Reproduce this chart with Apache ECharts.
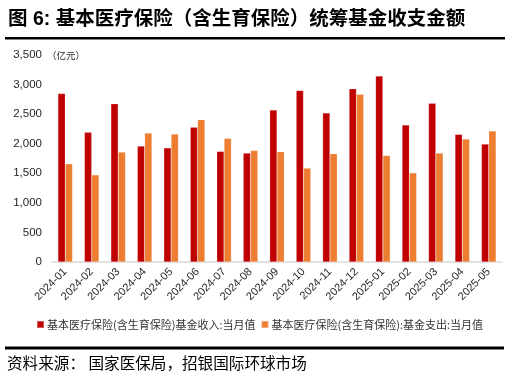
<!DOCTYPE html>
<html>
<head>
<meta charset="utf-8">
<script src="https://cdn.jsdelivr.net/npm/echarts@6/dist/echarts.min.js"></script>
<style>html,body{margin:0;padding:0;background:#fff;}#c{width:523px;height:380px;}</style>
</head>
<body>
<div id="c"></div>
<script>
const categories = ['2024-01','2024-02','2024-03','2024-04','2024-05','2024-06','2024-07','2024-08','2024-09','2024-10','2024-11','2024-12','2025-01','2025-02','2025-03','2025-04','2025-05'];
const incomeValues = [2850, 2195, 2675, 1960, 1930, 2278, 1870, 1842, 2572, 2900, 2521, 2929, 3143, 2317, 2684, 2158, 1994];
const expenseValues = [1660, 1473, 1859, 2181, 2164, 2407, 2090, 1886, 1864, 1587, 1830, 2837, 1801, 1507, 1842, 2079, 2215];
const yTicks = { min: 0, max: 3500, interval: 500 };
const incomeName = '基本医疗保险(含生育保险)基金收入:当月值';
const expenseName = '基本医疗保险(含生育保险):基金支出:当月值';
const titleText = '图 6: 基本医疗保险（含生育保险）统筹基金收支金额';
const sourceText = '资料来源： 国家医保局，招银国际环球市场';
const unitText = '（亿元）';

const FONT = 'Liberation Sans, Arial, Noto Sans CJK SC, sans-serif';
const CJK = 'Noto Sans CJK SC, sans-serif';
const chart = echarts.init(document.getElementById('c'), null, {renderer: 'canvas'});
chart.setOption({
  animation: false,
  backgroundColor: '#fff',
  textStyle: { fontFamily: FONT },
  grid: { left: 52, right: 21, top: 55, bottom: 118, containLabel: false },
  legend: {
    left: 36, top: 319, width: 487, padding: 0,
    itemWidth: 7, itemHeight: 7, itemGap: 5,
    icon: 'rect',
    textStyle: { fontSize: 11, color: '#333', fontFamily: CJK, padding: [0, 0, 0, -2] },
    data: [incomeName, expenseName]
  },
  xAxis: {
    type: 'category',
    data: categories,
    axisLine: { lineStyle: { color: '#e3e3e3', width: 2 } },
    axisTick: { show: false },
    axisLabel: { rotate: 45, fontSize: 11, color: '#262626', margin: 8, interval: 0, fontFamily: FONT }
  },
  yAxis: {
    type: 'value',
    min: yTicks.min, max: yTicks.max, interval: yTicks.interval,
    axisLine: { show: false },
    axisTick: { show: false },
    splitLine: { show: false },
    axisLabel: { fontSize: 11.5, color: '#262626', margin: 10, fontFamily: FONT,
      formatter: v => v.toLocaleString('en-US') }
  },
  series: [
    { name: incomeName, type: 'bar', data: incomeValues, barWidth: 7.3, barGap: '0%',
      itemStyle: { color: '#C00000', borderColor: 'rgba(255,255,255,0.35)', borderWidth: 0.5 } },
    { name: expenseName, type: 'bar', data: expenseValues, barWidth: 7.3,
      itemStyle: { color: '#ED7D31', borderColor: 'rgba(255,255,255,0.35)', borderWidth: 0.5 } }
  ],
  graphic: [
    { type: 'text', x: 8, y: 20,
      style: { text: titleText, fontSize: 19.5, fontWeight: 'bold', fontFamily: FONT, fill: '#000', verticalAlign: 'middle' } },
    { type: 'rect', shape: { x: 5, y: 37, width: 500, height: 2.5 }, style: { fill: '#000' } },
    { type: 'rect', shape: { x: 5, y: 346.5, width: 499, height: 3 }, style: { fill: '#000' } },
    { type: 'text', x: 7, y: 363,
      style: { text: sourceText, fontSize: 15.6, fontFamily: CJK, fill: '#000', verticalAlign: 'middle' } },
    { type: 'text', x: 47, y: 55,
      style: { text: unitText, fontSize: 9.5, fontFamily: CJK, fill: '#262626', verticalAlign: 'middle' } }
  ]
});
</script>
</body>
</html>
